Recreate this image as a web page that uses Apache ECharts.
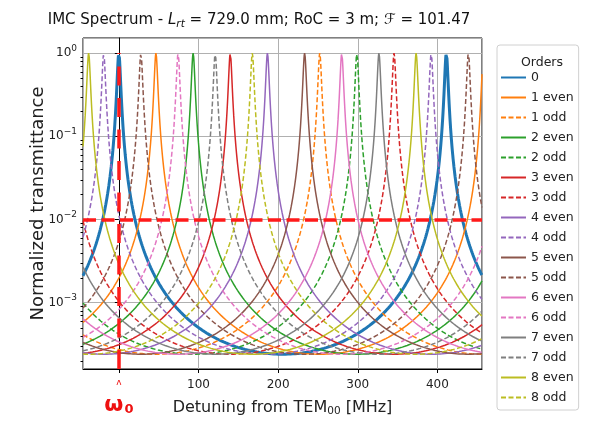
<!DOCTYPE html>
<html>
<head>
<meta charset="utf-8">
<script src="https://cdn.jsdelivr.net/npm/echarts@6/dist/echarts.min.js"></script>
<style>
  html, body { margin: 0; padding: 0; background: #fff; }
  #chart { width: 589px; height: 426px; }
</style>
</head>
<body>
<div id="chart"></div>
<script>
// Cavity parameters (from the title): round-trip length 729.0 mm -> FSR, finesse
const FSR_MHZ = 411.2;
const FINESSE = 101.47;

// Resonance frequencies of each transverse-mode order [MHz]
const orderLabels = ['0', '1 even', '1 odd', '2 even', '2 odd', '3 even', '3 odd',
  '4 even', '4 odd', '5 even', '5 odd', '6 even', '6 odd', '7 even', '7 odd', '8 even', '8 odd'];
const resonances = [0, 46.6, 252.3, 93.3, 298.9, 139.9, 345.6,
  186.6, 392.2, 233.3, 27.7, 279.9, 74.4, 326.6, 121.0, 373.3, 167.6];
const orderNumber = [0, 1, 1, 2, 2, 3, 3, 4, 4, 5, 5, 6, 6, 7, 7, 8, 8];
const isOdd = [false, false, true, false, true, false, true, false, true,
  false, true, false, true, false, true, false, true];

// Tick values
const xTicks = [0, 100, 200, 300, 400];
const yDecades = [-3, -2, -1, 0];
const yMinorTicks = [2e-4, 3e-4, 4e-4, 5e-4, 6e-4, 7e-4, 8e-4, 9e-4,
  2e-3, 3e-3, 4e-3, 5e-3, 6e-3, 7e-3, 8e-3, 9e-3,
  2e-2, 3e-2, 4e-2, 5e-2, 6e-2, 7e-2, 8e-2, 9e-2,
  0.2, 0.3, 0.4, 0.5, 0.6, 0.7, 0.8, 0.9];

// Reference lines: TEM00 detuning and the 1e-2 transmission level
const refDetuning = 0;
const refLevel = 0.01;

const palette = ['#1f77b4', '#ff7f0e', '#2ca02c', '#d62728', '#9467bd',
  '#8c564b', '#e377c2', '#7f7f7f', '#bcbd22'];

const X_MIN = -45, X_MAX = 456, STEP = 0.25;
const Y_MIN = 1.59e-4, Y_MAX = 1.52;

// Airy transmission of the cavity for a mode resonant at f0
function airy(f, f0) {
  const k = Math.pow(2 * FINESSE / Math.PI, 2);
  const s = Math.sin(Math.PI * (f - f0) / FSR_MHZ);
  return 1 / (1 + k * s * s);
}

function buildSeries(f0) {
  const pts = [];
  const n = Math.round((X_MAX - X_MIN) / STEP);
  for (let i = 0; i <= n; i++) {
    const f = X_MIN + i * STEP;
    pts.push([f, airy(f, f0)]);
  }
  return pts;
}

const series = orderLabels.map((name, i) => ({
  name: name,
  type: 'line',
  symbol: 'none',
  silent: true,
  animation: false,
  data: buildSeries(resonances[i]),
  lineStyle: {
    color: palette[orderNumber[i]],
    width: i === 0 ? 3 : 1.5,
    type: isOdd[i] ? [5, 2.5] : 'solid'
  },
  itemStyle: { color: palette[orderNumber[i]] }
}));

// Red dashed guides at the TEM00 resonance and at the 1e-2 level
series.push({
  name: 'refs',
  type: 'line',
  data: [],
  z: 10,
  silent: true,
  animation: false,
  markLine: {
    silent: true,
    symbol: 'none',
    animation: false,
    label: { show: false },
    data: [
      [{ coord: [refDetuning, Y_MIN], lineStyle: { color: '#ff1a1a', width: 3.5, type: [19, 12.5] } },
       { coord: [refDetuning, 1] }],
      [{ coord: [X_MIN, refLevel], lineStyle: { color: '#ff1a1a', width: 3.5, type: [13, 5.5] } },
       { coord: [X_MAX, refLevel] }]
    ]
  }
});

// Minor log ticks on the left axis (2..9 x 10^k)
series.push({
  name: 'minorTicks',
  type: 'custom',
  clip: false,
  silent: true,
  animation: false,
  data: yMinorTicks.map(v => [X_MIN, v]),
  renderItem: function (params, api) {
    const p = api.coord([api.value(0), api.value(1)]);
    const y = Math.round(p[1]) + 0.5;
    return {
      type: 'line',
      shape: { x1: p[0] - 2.5, y1: y, x2: p[0], y2: y },
      style: { stroke: '#000', lineWidth: 1 }
    };
  }
});

const supExp = {};
yDecades.forEach(d => { supExp[d] = true; });

const chart = echarts.init(document.getElementById('chart'), null, { renderer: 'canvas' });
chart.setOption({
  backgroundColor: '#fff',
  animation: false,
  textStyle: { fontFamily: 'DejaVu Sans' },
  title: [{
    text: 'IMC Spectrum - {it|L}{sub|rt} = 729.0 mm; RoC = 3 m; {it|ℱ} = 101.47',
    left: 254,
    top: 6,
    textAlign: 'center',
    textStyle: {
      fontFamily: 'DejaVu Sans', fontSize: 15, fontWeight: 'normal', color: '#111',
      rich: {
        it: { fontFamily: 'DejaVu Sans', fontStyle: 'italic', fontSize: 15, color: '#111' },
        sub: { fontFamily: 'DejaVu Sans', fontStyle: 'italic', fontSize: 10.5, color: '#111', padding: [8, 0, 0, 0] }
      }
    }
  }, {
    text: 'Orders',
    left: 537,
    top: 51,
    textAlign: 'center',
    textStyle: { fontFamily: 'DejaVu Sans', fontSize: 12.5, fontWeight: 'normal', color: '#222' }
  }],
  legend: {
    data: orderLabels,
    orient: 'vertical',
    left: 497,
    top: 45,
    padding: [26, 5, 6, 3],
    itemWidth: 25,
    itemHeight: 13,
    itemGap: 7,
    backgroundColor: '#fff',
    borderColor: '#d0d0d0',
    borderWidth: 1,
    borderRadius: 3,
    selectedMode: false,
    itemStyle: { opacity: 0 },
    textStyle: { fontFamily: 'DejaVu Sans', fontSize: 12.5, color: '#222' }
  },
  grid: {
    left: 83, top: 38, right: 107, bottom: 57,
    outerBoundsMode: 'none',
    show: true, borderColor: '#000', borderWidth: 1, backgroundColor: '#fff'
  },
  xAxis: {
    type: 'value',
    min: X_MIN, max: X_MAX,
    splitNumber: 5,
    axisLine: { show: true, onZero: false, lineStyle: { color: '#000', width: 1 } },
    axisTick: { show: true, length: 4, lineStyle: { color: '#000' } },
    splitLine: { show: true, lineStyle: { color: '#b0b0b0', width: 1 } },
    axisLabel: {
      interval: 0,
      margin: 10,
      showMinLabel: false,
      showMaxLabel: false,
      hideOverlap: false,
      fontFamily: 'DejaVu Sans', fontSize: 12, color: '#222',
      formatter: function (v) {
        if (Math.abs(v) < 1e-6) return '{a|ʌ}\n{w|ω}{s|0}';
        return xTicks.indexOf(Math.round(v)) >= 0 && Math.abs(v - Math.round(v)) < 1e-6 ? String(Math.round(v)) : '';
      },
      rich: {
        a: { fontFamily: 'DejaVu Sans', fontSize: 9, color: '#ee1111', lineHeight: 8 },
        w: { fontFamily: 'DejaVu Sans', fontSize: 22, fontWeight: 'bold', color: '#ee1111', lineHeight: 36 },
        s: { fontFamily: 'DejaVu Sans', fontSize: 13, fontWeight: 'bold', color: '#ee1111', lineHeight: 36, padding: [10, 0, 0, 1] }
      }
    },
    name: 'Detuning from TEM{sub|00} [MHz]',
    nameLocation: 'middle',
    nameGap: 29,
    nameMoveOverlap: false,
    nameTextStyle: {
      fontFamily: 'DejaVu Sans', fontSize: 16, color: '#222',
      rich: { sub: { fontFamily: 'DejaVu Sans', fontSize: 10.5, color: '#222', padding: [8, 0, 0, 0] } }
    }
  },
  yAxis: {
    type: 'log',
    logBase: 10,
    min: Y_MIN, max: Y_MAX,
    axisLine: { show: true, lineStyle: { color: '#000', width: 1 } },
    axisTick: { show: true, length: 4, lineStyle: { color: '#000' } },
    splitLine: { show: true, lineStyle: { color: '#b0b0b0', width: 1 } },
    axisLabel: {
      showMinLabel: false,
      showMaxLabel: false,
      margin: 6,
      fontFamily: 'DejaVu Sans', fontSize: 12, color: '#222',
      formatter: function (v) {
        const e = Math.log10(v);
        const r = Math.round(e);
        if (Math.abs(e - r) > 1e-6 || !supExp[r]) return '';
        return '10{sup|' + (r < 0 ? '−' + (-r) : r) + '}';
      },
      rich: {
        sup: { fontFamily: 'DejaVu Sans', fontSize: 9, color: '#222', padding: [0, 0, 9, 0] }
      }
    },
    name: 'Normalized transmittance',
    nameLocation: 'middle',
    nameGap: 36,
    nameMoveOverlap: false,
    nameTextStyle: { fontFamily: 'DejaVu Sans', fontSize: 18, color: '#222' }
  },
  series: series
});
</script>
</body>
</html>
